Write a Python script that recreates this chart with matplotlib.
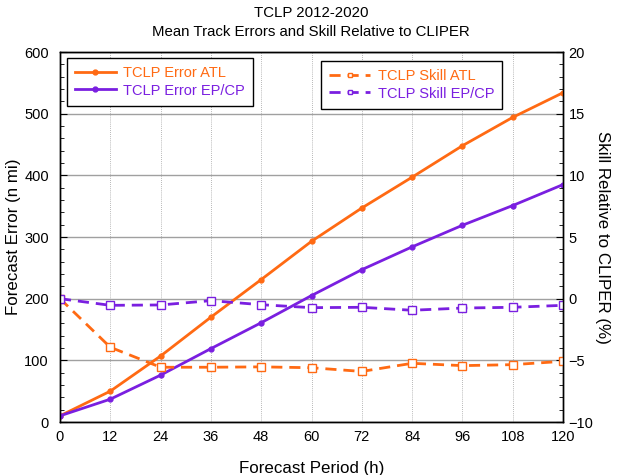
import matplotlib
matplotlib.use("Agg")
import matplotlib.pyplot as plt
from matplotlib.ticker import MultipleLocator

plt.rcParams['font.family'] = ['Liberation Sans', 'DejaVu Sans']

hours = [0, 12, 24, 36, 48, 60, 72, 84, 96, 108, 120]
err_atl = [10, 50, 107, 170, 231, 293, 347, 397, 448, 494, 534]
err_ep = [10, 37, 76, 119, 161, 205, 247, 284, 319, 351, 385]
skill_atl = [0, -3.94, -5.56, -5.56, -5.53, -5.6, -5.9, -5.24, -5.43, -5.35, -5.08]
skill_ep = [0, -0.54, -0.51, -0.16, -0.49, -0.73, -0.70, -0.94, -0.76, -0.70, -0.54]

ORANGE = '#ff6a13'
PURPLE = '#7a1fe0'

fig = plt.figure(figsize=(6.22, 4.75), dpi=100)
ax = fig.add_axes([60/622, 53/475, 503/622, 370/475])
ax2 = ax.twinx()

ax.set_xlim(0, 120)
ax.set_ylim(0, 600)
ax2.set_ylim(-10, 20)

ax.xaxis.set_major_locator(MultipleLocator(12))
ax.yaxis.set_major_locator(MultipleLocator(100))
ax.yaxis.set_minor_locator(MultipleLocator(20))
ax2.yaxis.set_major_locator(MultipleLocator(5))
ax2.yaxis.set_minor_locator(MultipleLocator(1))

ax.grid(axis='y', which='major', color='#a0a0a0', linestyle='-', linewidth=1.0)
ax.grid(axis='x', which='major', color='#a0a0a0', linestyle=(0, (1, 1.5)), linewidth=0.6)
ax.set_axisbelow(True)

for a in (ax, ax2):
    a.tick_params(direction='in', labelsize=10.5, length=5, width=0.8)
    a.tick_params(which='minor', direction='in', length=3, width=0.6)
    for s in a.spines.values():
        s.set_linewidth(1.0)
ax.tick_params(axis='x', length=0, pad=6)
ax2.tick_params(axis='y', pad=4)
ax.tick_params(axis='y', pad=8)

l1, = ax.plot(hours, err_atl, color=ORANGE, lw=2, marker='o', ms=3.5, label='TCLP Error ATL', zorder=4)
l2, = ax.plot(hours, err_ep, color=PURPLE, lw=2, marker='o', ms=3.5, label='TCLP Error EP/CP', zorder=4)
l3, = ax2.plot(hours, skill_atl, color=ORANGE, lw=2, ls=(0, (4, 2.5)), marker='s', ms=5.5,
               mfc='white', mec=ORANGE, mew=1.0, label='TCLP Skill ATL')
l4, = ax2.plot(hours, skill_ep, color=PURPLE, lw=2, ls=(0, (4, 2.5)), marker='s', ms=5.5,
               mfc='white', mec=PURPLE, mew=1.0, label='TCLP Skill EP/CP')

ax.set_xticks(hours)
ax.set_xlabel('Forecast Period (h)', fontsize=12.2, labelpad=12)
ax.set_ylabel('Forecast Error (n mi)', fontsize=12.2, labelpad=2)
ax2.set_ylabel('Skill Relative to CLIPER (%)', fontsize=12.2, rotation=270, labelpad=12)

fig.suptitle('TCLP 2012-2020\nMean Track Errors and Skill Relative to CLIPER',
             fontsize=10.8, y=0.987, linespacing=1.45)

leg1 = ax2.legend(handles=[l1, l2], loc='upper left', bbox_to_anchor=(0.0139, 0.984),
                  borderaxespad=0,
                  fontsize=10.5, labelcolor='linecolor', fancybox=False, framealpha=1,
                  edgecolor='black', handlelength=2.8, handletextpad=0.5,
                  borderpad=0.55, labelspacing=0.25)
leg1.get_frame().set_linewidth(1.0)
ax2.add_artist(leg1)
leg2 = ax2.legend(handles=[l3, l4], loc='upper right', bbox_to_anchor=(0.879, 0.976),
                  borderaxespad=0,
                  fontsize=10.5, labelcolor='linecolor', fancybox=False, framealpha=1,
                  edgecolor='black', handlelength=2.8, handletextpad=0.5,
                  borderpad=0.55, labelspacing=0.25, markerscale=0.6)
leg2.get_frame().set_linewidth(1.0)

fig.savefig('out.png', dpi=100)
